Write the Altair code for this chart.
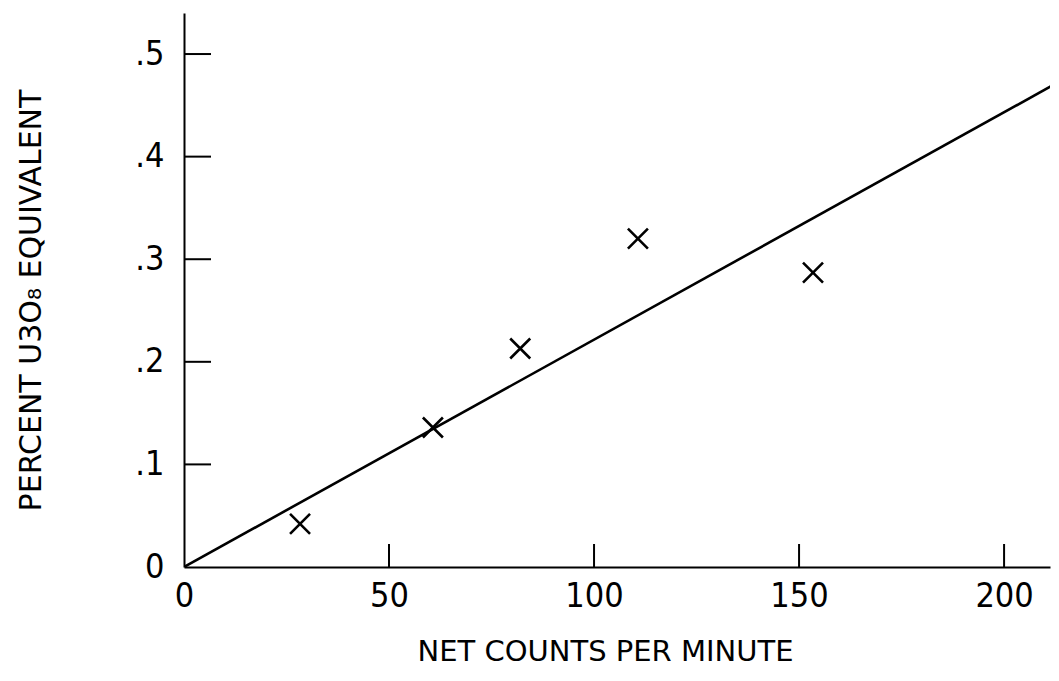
import altair as alt
import pandas as pd

# Data
counts = [28.3, 60.7, 82.0, 110.7, 153.4]
percent = [0.042, 0.136, 0.213, 0.320, 0.287]
fit_counts = [0, 213]
fit_percent = [0, 0.472]
x_tick_values = [50, 100, 150, 200]
x_label_values = [0, 50, 100, 150, 200]
y_tick_values = [0.1, 0.2, 0.3, 0.4, 0.5]
y_label_values = [0, 0.1, 0.2, 0.3, 0.4, 0.5]
y_label_texts = ["0", ".1", ".2", ".3", ".4", ".5"]
x_title = "NET COUNTS PER MINUTE"
y_title = "PERCENT U3O\u2088 EQUIVALENT"

W, H = 866, 554
X_MAX = 211.2
Y_MAX = 0.54

LABEL_FONT = "Liberation Sans Narrow, DejaVu Sans Condensed, sans-serif"
TITLE_FONT = "DejaVu Sans, sans-serif"

y_expr = "''"
for v, t in zip(y_label_values, y_label_texts):
    y_expr = f"abs(datum.value - {v}) < 1e-6 ? '{t}' : ({y_expr})"

xscale = alt.Scale(domain=[0, X_MAX], nice=False, zero=True)
yscale = alt.Scale(domain=[0, Y_MAX], nice=False, zero=True)

xaxis = alt.Axis(
    title=x_title, values=x_label_values, ticks=False, grid=False,
    domainColor="black", domainWidth=2,
    labelFont=LABEL_FONT, labelFontSize=34, labelColor="black",
    labelPadding=12, labelFlush=False,
    titleFont=TITLE_FONT, titleFontSize=29, titleFontWeight="normal",
    titleColor="black", titleX=421, titleY=84, titleAlign="center",
    titleBaseline="middle",
)
yaxis = alt.Axis(
    title=y_title, values=y_label_values, labelExpr=y_expr, ticks=False,
    grid=False, domainColor="black", domainWidth=2,
    labelFont=LABEL_FONT, labelFontSize=34, labelColor="black",
    labelPadding=20, labelFlush=False, labelBaseline="middle",
    titleFont=TITLE_FONT, titleFontSize=30, titleFontWeight="normal",
    titleColor="black", titleX=-153, titleY=287, titleAlign="center",
    titleBaseline="middle", titleAngle=270,
)

def X():
    return alt.X("x:Q", scale=xscale, axis=xaxis)

def Y():
    return alt.Y("y:Q", scale=yscale, axis=yaxis)

points_df = pd.DataFrame({"x": counts, "y": percent})
fit_df = pd.DataFrame({"x": fit_counts, "y": fit_percent})
xt_df = pd.DataFrame({"x": x_tick_values})
yt_df = pd.DataFrame({"y": y_tick_values})

cross_path = "M-1,-1L1,1M-1,1L1,-1"

points = alt.Chart(points_df).mark_point(
    shape=cross_path, filled=False, stroke="black", strokeWidth=2.6,
    size=400, opacity=1,
).encode(x=X(), y=Y())

fit = alt.Chart(fit_df).mark_line(
    color="black", strokeWidth=2.6, clip=True
).encode(x=X(), y=Y())

xticks = alt.Chart(xt_df).mark_rule(color="black", strokeWidth=2).encode(
    x=X(), y=alt.value(H), y2=alt.value(H - 23)
)
yticks = alt.Chart(yt_df).mark_rule(color="black", strokeWidth=2).encode(
    y=Y(), x=alt.value(0), x2=alt.value(27)
)

chart = alt.layer(fit, points, xticks, yticks).properties(
    width=W, height=H,
    autosize=alt.AutoSizeParams(type="none"),
    padding={"left": 176, "top": 5, "right": 1, "bottom": 105},
    background="white",
).configure_view(stroke=None)

chart.save("out.html", embed_options={"renderer": "svg", "actions": False})
